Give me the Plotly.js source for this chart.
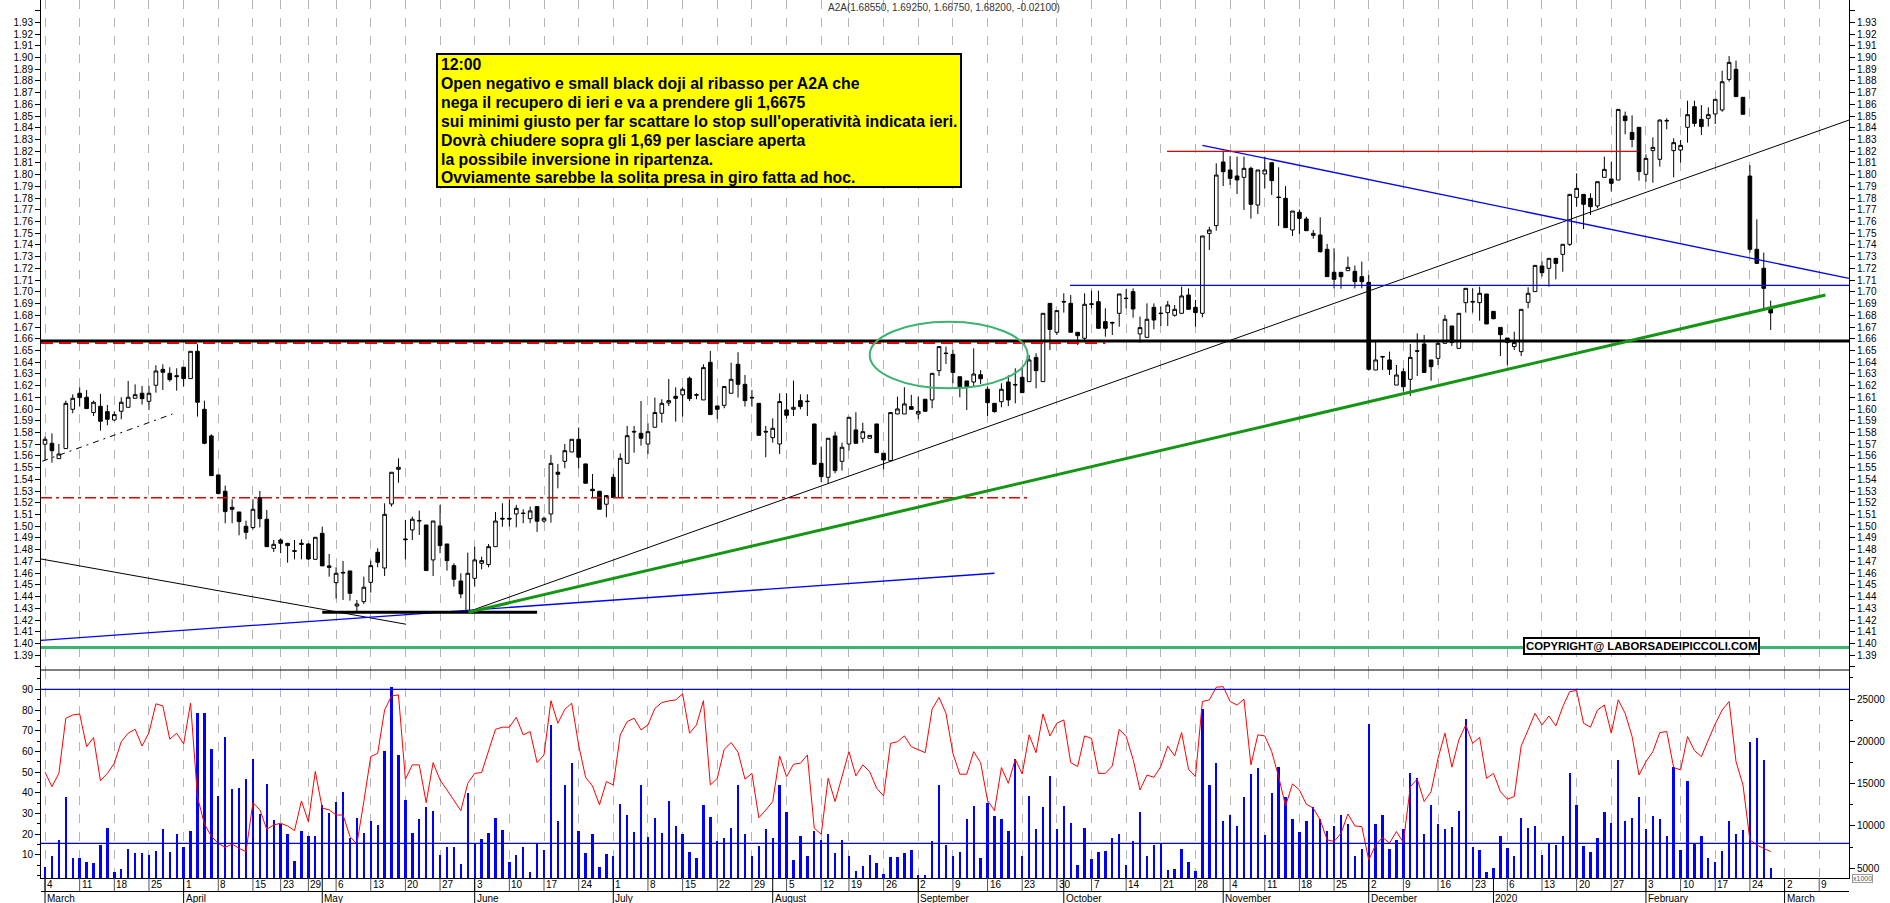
<!DOCTYPE html>
<html><head><meta charset="utf-8">
<script src="https://cdn.plot.ly/plotly-3.0.1.min.js"></script>
<style>html,body{margin:0;padding:0;background:#fff;}#chart{width:1890px;height:903px;}</style>
</head><body><div id="chart"></div>
<script>
// ---------- calendar (Borsa Italiana trading days) ----------
const calendarStart = '2019-03-04';
const calendarEnd = '2020-03-13';
const closedDays = ['2019-04-19','2019-04-22','2019-05-01','2019-08-15','2019-12-24','2019-12-25','2019-12-26','2019-12-31','2020-01-01'];
const weekTickDates = ['2019-03-04','2019-03-11','2019-03-18','2019-03-25','2019-04-01','2019-04-08','2019-04-15','2019-04-23','2019-04-29','2019-05-06','2019-05-13','2019-05-20','2019-05-27','2019-06-03','2019-06-10','2019-06-17','2019-06-24','2019-07-01','2019-07-08','2019-07-15','2019-07-22','2019-07-29','2019-08-05','2019-08-12','2019-08-19','2019-08-26','2019-09-02','2019-09-09','2019-09-16','2019-09-23','2019-09-30','2019-10-07','2019-10-14','2019-10-21','2019-10-28','2019-11-04','2019-11-11','2019-11-18','2019-11-25','2019-12-02','2019-12-09','2019-12-16','2019-12-23','2020-01-06','2020-01-13','2020-01-20','2020-01-27','2020-02-03','2020-02-10','2020-02-17','2020-02-24','2020-03-02','2020-03-09'];
const monthDates = ['2019-03-04','2019-04-01','2019-05-02','2019-06-03','2019-07-01','2019-08-01','2019-09-02','2019-10-01','2019-11-01','2019-12-02','2020-01-02','2020-02-03','2020-03-02'];
const monthNames = ['March','April','May','June','July','August','September','October','November','December','2020','February','March'];

// ---------- price data (A2A daily OHLC, 2019-03-04 .. 2020-02-27) ----------
const openP = [
1.5700,1.5708,1.5577,1.5663,1.5998,1.6135,1.6101,1.5970,1.6024,1.5978,
1.5907,1.5981,1.6015,1.6092,1.6135,1.6066,1.6203,1.6339,1.6305,1.6285,
1.6357,1.6260,1.6493,1.5998,1.5771,1.5438,1.5299,1.5162,1.5122,1.5000,
1.4989,1.5244,1.5060,1.4812,1.4883,1.4855,1.4792,1.4855,1.4849,1.4718,
1.4940,1.4662,1.4519,1.4607,1.4619,1.4320,1.4357,1.4522,1.4778,1.4644,
1.5190,1.5486,1.4892,1.4969,1.5050,1.5011,1.4713,1.5003,1.4849,1.4664,
1.4533,1.4280,1.4556,1.4684,1.4673,1.4826,1.5068,1.5068,1.5105,1.5113,
1.5065,1.5168,1.5045,1.5105,1.5461,1.5554,1.5634,1.5742,1.5532,1.5316,
1.5299,1.5188,1.5418,1.5245,1.5537,1.5810,1.5793,1.5702,1.5845,1.5964,
1.6052,1.6109,1.6121,1.6263,1.6123,1.6078,1.6399,1.6027,1.6032,1.6135,
1.6382,1.6211,1.6100,1.6049,1.5810,1.5756,1.5702,1.5993,1.5998,1.6072,
1.6068,1.5873,1.5537,1.5418,1.5771,1.5554,1.5702,1.5822,1.5751,1.5751,
1.5873,1.5623,1.5560,1.5958,1.5958,1.6021,1.5958,1.6084,1.6078,1.6328,
1.6478,1.6467,1.6276,1.6240,1.6231,1.6293,1.6169,1.6049,1.6063,1.6231,
1.6210,1.6271,1.6234,1.6441,1.6234,1.6902,1.6655,1.6918,1.6902,1.6655,
1.6604,1.6898,1.6916,1.6746,1.6739,1.6817,1.6947,1.7002,1.6641,1.6612,
1.6868,1.6819,1.6823,1.6800,1.6817,1.6973,1.6868,1.6817,1.7499,1.7565,
1.8108,1.8040,1.7989,1.7977,1.8054,1.7741,1.8006,1.8102,1.7809,1.7798,
1.7528,1.7679,1.7622,1.7482,1.7485,1.7363,1.7167,1.7167,1.7181,1.7175,
1.7130,1.7081,1.6333,1.6449,1.6419,1.6205,1.6319,1.6254,1.6498,1.6555,
1.6419,1.6433,1.6561,1.6709,1.6518,1.6908,1.6918,1.6908,1.6982,1.6834,
1.6697,1.6606,1.6533,1.6490,1.6911,1.7002,1.7221,1.7201,1.7286,1.7320,
1.7406,1.7806,1.7832,1.7798,1.7733,1.7977,1.7963,1.7954,1.8500,1.8361,
1.8404,1.8003,1.8205,1.8131,1.8463,1.8205,1.8210,1.8404,1.8580,1.8472,
1.8481,1.8518,1.8552,1.8813,1.8899,1.8660,1.7988,1.7363,1.7201,1.6855];
const highP = [
1.5765,1.5793,1.5702,1.6072,1.6126,1.6186,1.6163,1.6072,1.6129,1.6035,
1.5981,1.6101,1.6240,1.6211,1.6197,1.6197,1.6374,1.6382,1.6357,1.6348,
1.6357,1.6493,1.6553,1.6072,1.5785,1.5438,1.5347,1.5230,1.5122,1.5048,
1.5230,1.5301,1.5139,1.4883,1.4897,1.4855,1.4883,1.4889,1.4855,1.4906,
1.4997,1.4764,1.4650,1.4704,1.4619,1.4371,1.4570,1.4707,1.4812,1.5196,
1.5461,1.5580,1.5054,1.5082,1.5134,1.5011,1.5045,1.5182,1.4849,1.4684,
1.4599,1.4775,1.4826,1.4741,1.4849,1.5122,1.5196,1.5230,1.5182,1.5145,
1.5168,1.5168,1.5082,1.5609,1.5532,1.5702,1.5742,1.5842,1.5532,1.5446,
1.5299,1.5262,1.5446,1.5622,1.5856,1.5856,1.6069,1.5879,1.6098,1.6084,
1.6257,1.6186,1.6186,1.6277,1.6135,1.6382,1.6496,1.6027,1.6192,1.6396,
1.6485,1.6291,1.6163,1.6049,1.5856,1.5921,1.6135,1.6135,1.6243,1.6126,
1.6126,1.5873,1.5680,1.5751,1.5807,1.5714,1.5930,1.5973,1.5884,1.5776,
1.5873,1.5623,1.5970,1.6106,1.6186,1.6121,1.6106,1.6084,1.6305,1.6533,
1.6533,1.6504,1.6276,1.6240,1.6518,1.6333,1.6191,1.6049,1.6220,1.6288,
1.6348,1.6348,1.6461,1.6476,1.6817,1.6902,1.6840,1.6988,1.6973,1.6655,
1.6988,1.7010,1.7010,1.6860,1.6746,1.6982,1.7024,1.7030,1.6789,1.6902,
1.6902,1.6874,1.6922,1.6888,1.7044,1.7030,1.6931,1.7477,1.7556,1.8097,
1.8205,1.8159,1.8154,1.8154,1.8068,1.8040,1.8154,1.8102,1.8063,1.7903,
1.7690,1.7704,1.7642,1.7528,1.7636,1.7409,1.7372,1.7167,1.7300,1.7224,
1.7258,1.7144,1.6575,1.6449,1.6490,1.6376,1.6348,1.6555,1.6646,1.6632,
1.6419,1.6575,1.6803,1.6709,1.6817,1.7030,1.7030,1.7044,1.6982,1.6834,
1.6697,1.6606,1.6660,1.6851,1.7039,1.7226,1.7262,1.7286,1.7286,1.7406,
1.7832,1.8011,1.7832,1.7841,1.7940,1.8154,1.8111,1.8557,1.8538,1.8506,
1.8404,1.8173,1.8318,1.8472,1.8481,1.8310,1.8296,1.8631,1.8631,1.8594,
1.8574,1.8643,1.8887,1.9012,1.8973,1.8660,1.8082,1.7619,1.7335,1.6925];
const lowP = [
1.5560,1.5543,1.5577,1.5660,1.5964,1.6021,1.6004,1.5941,1.5816,1.5862,
1.5901,1.5913,1.6015,1.6092,1.6038,1.5993,1.6140,1.6163,1.6234,1.6157,
1.6192,1.6260,1.5936,1.5700,1.5432,1.5279,1.5026,1.5026,1.4923,1.4889,
1.4974,1.4991,1.4826,1.4781,1.4770,1.4690,1.4718,1.4718,1.4713,1.4718,
1.4662,1.4570,1.4383,1.4371,1.4366,1.4272,1.4337,1.4434,1.4650,1.4576,
1.5168,1.5372,1.4718,1.4883,1.4926,1.4622,1.4576,1.4770,1.4622,1.4485,
1.4386,1.4272,1.4485,1.4633,1.4650,1.4826,1.4997,1.4997,1.4991,1.5026,
1.5026,1.4952,1.5031,1.5031,1.5324,1.5495,1.5634,1.5495,1.5367,1.5239,
1.5145,1.5077,1.5239,1.5245,1.5537,1.5628,1.5688,1.5617,1.5845,1.5884,
1.6027,1.5893,1.5936,1.6069,1.6084,1.6078,1.5953,1.5916,1.6007,1.6135,
1.6098,1.6021,1.6021,1.5776,1.5589,1.5714,1.5617,1.5919,1.5941,1.5998,
1.5941,1.5529,1.5375,1.5361,1.5452,1.5475,1.5646,1.5708,1.5714,1.5751,
1.5628,1.5486,1.5560,1.5958,1.5958,1.5998,1.5913,1.5981,1.6007,1.6283,
1.6385,1.6220,1.6100,1.5992,1.6191,1.6214,1.5941,1.5970,1.6015,1.6026,
1.6049,1.6140,1.6234,1.6177,1.6234,1.6504,1.6632,1.6823,1.6655,1.6547,
1.6589,1.6860,1.6689,1.6618,1.6632,1.6703,1.6860,1.6780,1.6567,1.6612,
1.6680,1.6709,1.6709,1.6789,1.6817,1.6851,1.6703,1.6783,1.7357,1.7522,
1.7903,1.7912,1.7835,1.7699,1.7625,1.7664,1.7883,1.7827,1.7562,1.7548,
1.7477,1.7494,1.7522,1.7454,1.7335,1.7130,1.7030,1.7027,1.7181,1.7030,
1.7030,1.6328,1.6333,1.6333,1.6291,1.6205,1.6148,1.6112,1.6282,1.6313,
1.6242,1.6376,1.6561,1.6538,1.6518,1.6823,1.6823,1.6754,1.6726,1.6766,
1.6453,1.6376,1.6504,1.6453,1.6860,1.7002,1.7130,1.7044,1.7107,1.7172,
1.7391,1.7727,1.7536,1.7656,1.7713,1.7977,1.7855,1.7954,1.8344,1.8233,
1.7949,1.7940,1.7932,1.8068,1.8387,1.7977,1.8103,1.8273,1.8410,1.8338,
1.8410,1.8432,1.8537,1.8793,1.8666,1.8515,1.7335,1.7243,1.6860,1.6675];
const closeP = [
1.5742,1.5645,1.5617,1.6049,1.6092,1.6098,1.6004,1.6058,1.5896,1.5913,
1.5953,1.6058,1.6101,1.6123,1.6089,1.6135,1.6325,1.6314,1.6251,1.6277,
1.6260,1.6493,1.6058,1.5708,1.5432,1.5279,1.5125,1.5145,1.5040,1.4949,
1.5145,1.5065,1.4826,1.4846,1.4855,1.4835,1.4787,1.4846,1.4721,1.4906,
1.4662,1.4650,1.4599,1.4602,1.4428,1.4337,1.4480,1.4664,1.4693,1.5102,
1.5461,1.5503,1.4886,1.5060,1.5046,1.4622,1.5045,1.4835,1.4707,1.4548,
1.4423,1.4599,1.4713,1.4707,1.4826,1.5045,1.5062,1.5062,1.5153,1.5109,
1.5131,1.5043,1.5068,1.5537,1.5444,1.5645,1.5742,1.5589,1.5367,1.5304,
1.5145,1.5262,1.5245,1.5580,1.5773,1.5805,1.5751,1.5807,1.5970,1.6049,
1.6072,1.6092,1.6169,1.6089,1.6119,1.6354,1.5953,1.5998,1.6192,1.6254,
1.6211,1.6072,1.6096,1.5776,1.5805,1.5836,1.6064,1.5947,1.6015,1.6021,
1.6064,1.5529,1.5424,1.5751,1.5475,1.5674,1.5930,1.5708,1.5807,1.5776,
1.5628,1.5566,1.5970,1.6001,1.6044,1.5998,1.5981,1.5981,1.6305,1.6533,
1.6474,1.6313,1.6191,1.6191,1.6299,1.6259,1.6055,1.5978,1.6169,1.6078,
1.6206,1.6140,1.6419,1.6328,1.6817,1.6680,1.6840,1.6914,1.6655,1.6626,
1.6894,1.6894,1.6689,1.6689,1.6735,1.6982,1.6943,1.6854,1.6695,1.6766,
1.6760,1.6815,1.6888,1.6851,1.6965,1.6851,1.6823,1.7477,1.7528,1.7997,
1.8026,1.7969,1.7955,1.8054,1.7747,1.8040,1.8040,1.7949,1.7805,1.7548,
1.7690,1.7627,1.7522,1.7499,1.7343,1.7130,1.7107,1.7130,1.7209,1.7087,
1.7087,1.6339,1.6419,1.6445,1.6339,1.6291,1.6191,1.6441,1.6494,1.6313,
1.6362,1.6561,1.6766,1.6567,1.6817,1.7030,1.6914,1.6988,1.6726,1.6771,
1.6635,1.6567,1.6567,1.6851,1.6988,1.7226,1.7164,1.7286,1.7243,1.7406,
1.7832,1.7883,1.7747,1.7727,1.7940,1.8045,1.7926,1.8557,1.8461,1.8301,
1.8026,1.8139,1.8233,1.8466,1.8459,1.8273,1.8250,1.8512,1.8438,1.8410,
1.8512,1.8643,1.8793,1.8958,1.8666,1.8515,1.7363,1.7243,1.7030,1.6820];
// volume in thousands of shares
const volume = [
5100,6400,8400,13400,6200,6200,5800,5600,7800,9800,
4600,4900,7300,6800,6800,6600,7000,9600,6900,9100,
7500,9400,23300,23400,19100,13500,20500,14400,14500,15500,
17900,11400,15000,10700,10200,9000,5900,9400,8800,8800,
12500,11500,12800,14000,8600,10900,9200,10600,10100,18900,
26400,18400,13100,9200,10800,12200,11800,6600,7500,7500,
5500,13900,7900,8500,9200,11000,9500,5700,6600,7500,
4600,7900,7200,21900,10600,14800,17500,9400,6800,9100,
5200,6700,6400,12600,11300,9300,14900,8700,10900,9200,
12900,10000,9100,6900,6200,12500,11100,8200,8600,9800,
14900,9100,6400,7600,9600,8600,14900,11600,6000,8800,
6400,9400,8300,9000,6800,8300,6400,4700,5300,6600,
5600,4300,6300,6300,6800,7200,4200,4200,8200,14900,
7800,6400,6900,10800,12400,6200,12700,11200,10800,9400,
17900,6400,13500,9600,12300,15900,9600,12400,10400,5400,
9800,6100,6900,7000,8600,9100,5400,8200,11700,6400,
7700,8000,4800,4900,7300,5800,4700,23800,14900,17500,
10600,11300,10000,13400,16200,16800,8900,13900,17000,13400,
10800,9300,10600,12200,10800,9400,10000,11300,10200,6400,
7300,22000,10200,11300,7300,8400,9600,16300,15700,9100,
12500,10200,9600,9900,11800,22600,7500,7200,4600,5000,
8800,7400,6400,10900,9800,10000,6600,8000,7700,8800,
16300,12500,7600,6900,8600,11600,10400,17800,10600,10900,
13400,9600,11200,10800,8800,17000,7200,15300,8000,8800,
6200,5800,7000,10600,9000,9500,19900,20400,17800,5000];
// oscillator (0-100 scale)
const oscillator = [
50,43,49.4,76,77.6,78.1,62.3,66.7,45.9,49.4,
54.3,64.7,68.8,70.7,62.6,69.1,83,82,65.9,68.8,
63.6,83.3,38,25,19,15.6,13.7,15.3,13.2,11.6,
35.3,31.8,22.4,24.5,25.3,24,21.8,36.1,26.1,50.3,
32.6,31.8,29.3,29.3,18.9,15.3,35.8,57.5,59.1,80,
86.8,87.3,46.6,53.5,53.5,35.3,54.6,46.2,41.4,36.6,
31.4,44.6,49.4,49.8,59.9,70.7,71.7,71.7,76.5,68,
69.6,54.6,58.3,84.5,73.6,80.3,83.3,63.1,47.5,43.3,
34.2,45.4,43.8,68,74.4,76,70.4,72.8,80.8,83.6,
84.4,84.9,87.8,68.8,72.8,84.5,43.8,47,61,64.3,
59.6,46.6,49.4,28,31.7,35.8,57.8,47.8,53.8,54.3,
58.3,22.9,20,47,35.8,47.8,59.9,48.2,53.5,50.2,
42.2,38.5,63.9,64.7,67.5,62.3,60.7,59.4,80.4,86.1,
78.4,59.1,49,49,59.9,54.6,36.3,31.4,52.2,44.6,
56.2,49.1,68,59.4,78.1,67.5,73.6,75.2,54.6,52.7,
67.5,66.3,49.4,49.4,53,70.7,67.2,56.2,41.4,48.6,
47.5,52.7,62.6,57.8,69.1,51.4,47.8,84.1,84.9,91,
91.3,84.1,82.4,85.2,53.5,68,67.5,59.9,47.8,33.7,
44.3,41.4,34.5,32.6,26.9,17.3,16.5,20.5,29.8,24,
23.7,7.6,14.8,18.5,15.7,21.3,16,43,46.6,35.8,
40.6,56.7,68.8,52.4,65.5,72.8,63.9,66.8,47,49.4,
40.6,36.9,38.2,62.6,70.4,78.4,72.8,77.1,72.3,81.6,
88.9,89.4,73.6,71.7,80,82.4,68.8,84.9,78.4,67.2,
48.6,55.1,59.9,69.1,69.6,52.2,51.1,67.2,60.4,57.5,
65.5,73.3,80,84.1,55.1,43.8,17.3,14.8,13.2,11.6];

const titleText = 'A2A(1.68550, 1.69250, 1.66750, 1.68200, -0.02100)';
const noteLines = [
 '12:00',
 'Open negativo e small black doji al ribasso per A2A che',
 'nega il recupero di ieri e va a prendere gli 1,6675',
 "sui minimi giusto per far scattare lo stop sull'operatività indicata ieri.",
 'Dovrà chiudere sopra gli 1,69 per lasciare aperta',
 'la possibile inversione in ripartenza.',
 'Ovviamente sarebbe la solita presa in giro fatta ad hoc.'];
const copyrightText = 'COPYRIGHT@ LABORSADEIPICCOLI.COM';
const volumeTicks = [5000, 10000, 15000, 20000, 25000];
const oscTicks = [10, 20, 30, 40, 50, 60, 70, 80, 90];

// ---------- build ----------
function buildCalendar(start, end, closed) {
  const out = [];
  const d = new Date(start + 'T00:00:00Z');
  const e = new Date(end + 'T00:00:00Z');
  while (d <= e) {
    const wd = d.getUTCDay();
    const s = d.toISOString().slice(0, 10);
    if (wd !== 0 && wd !== 6 && closed.indexOf(s) < 0) out.push(s);
    d.setUTCDate(d.getUTCDate() + 1);
  }
  return out;
}
const tradingDays = buildCalendar(calendarStart, calendarEnd, closedDays);
const pos = s => tradingDays.indexOf(s);
const xIdx = tradingDays.slice(0, openP.length).map(pos);
const weekIdx = weekTickDates.map(pos);

const FONT = 'Liberation Sans, Arial, sans-serif';
const H = 878; // plot area height in px
const W = 1808; // plot area width in px
const py = px => (H - px) / H;
const pxx = px => (px - 41) / W;
const XR = [-0.58, 260.3];

// analyst drawings (index, price)
const drawings = [
  {x0:XR[0], y0:1.3966, x1:XR[1], y1:1.3966, c:'rgb(60,179,113)', w:3},
  {x0:XR[0], y0:1.6580, x1:XR[1], y1:1.6580, c:'black', w:3},
  {x0:XR[0], y0:1.6563, x1:153, y1:1.6563, c:'rgb(230,0,0)', w:2, d:'12px,6px'},
  {x0:XR[0], y0:1.5244, x1:141.8, y1:1.5244, c:'rgb(230,0,0)', w:1.5, d:'11px,4px,3px,4px'},
  {x0:-0.4, y0:1.5555, x1:18.4, y1:1.5958, c:'black', w:1, d:'6px,5px,2px,5px'},
  {x0:XR[0], y0:1.4721, x1:52.1, y1:1.4164, c:'black', w:1},
  {x0:XR[0], y0:1.4027, x1:137.0, y1:1.4599, c:'blue', w:1.3},
  {x0:40.0, y0:1.4266, x1:71.0, y1:1.4266, c:'black', w:3},
  {x0:61.1, y0:1.4272, x1:XR[1], y1:1.8466, c:'black', w:1},
  {x0:61.1, y0:1.4266, x1:256.9, y1:1.6973, c:'rgb(20,150,20)', w:3},
  {x0:167.0, y0:1.8250, x1:XR[1], y1:1.7115, c:'blue', w:1.3},
  {x0:161.9, y0:1.8199, x1:229.8, y1:1.8199, c:'rgb(230,0,0)', w:1.3},
  {x0:147.9, y0:1.7056, x1:XR[1], y1:1.7056, c:'blue', w:1.3}
];
const shapes = drawings.map(s => ({type:'line', xref:'x', yref:'y', x0:s.x0, y0:s.y0, x1:s.x1, y1:s.y1,
  line:{color:s.c, width:s.w, dash:s.d || 'solid'}}));
shapes.push({type:'circle', xref:'x', yref:'y', x0:119.0, x1:141.8, y0:1.6177, y1:1.6745,
  line:{color:'rgb(60,179,113)', width:2}});
// lower panel reference lines
[90, 15.6].forEach(v => shapes.push({type:'line', xref:'paper', yref:'y4', x0:0, x1:1, y0:v, y1:v,
  line:{color:'blue', width:1.3}}));
// panel separator
shapes.push({type:'line', xref:'paper', yref:'paper', x0:0, x1:1, y0:py(670), y1:py(670), line:{color:'black', width:1}});
// note box
shapes.push({type:'rect', xref:'paper', yref:'paper', x0:pxx(437), x1:pxx(961), y0:py(187), y1:py(54),
  fillcolor:'#ffff00', line:{color:'black', width:2}});
// date rows
shapes.push({type:'line', xref:'paper', yref:'paper', x0:0, x1:1, y0:py(891.5), y1:py(891.5), line:{color:'black', width:1}});
weekIdx.forEach(i => shapes.push({type:'line', xref:'x', yref:'paper', x0:i, x1:i, y0:0, y1:py(891.5), line:{color:'#555', width:1}}));
monthDates.forEach(d => { const i = Math.max(pos(d), XR[0] + 0.1);
  shapes.push({type:'line', xref:'x', yref:'paper', x0:i, x1:i, y0:0, y1:py(903), line:{color:'black', width:1}}); });

const annotations = [];
weekTickDates.forEach((d, k) => annotations.push({x:weekIdx[k], xref:'x', y:py(884.5), yref:'paper',
  text:String(parseInt(d.slice(8), 10)), xanchor:'left', yanchor:'middle', xshift:0, showarrow:false,
  font:{family:FONT, size:10, color:'black'}}));
monthDates.forEach((d, k) => annotations.push({x:Math.max(pos(d), XR[0] + 0.1), xref:'x', y:py(898), yref:'paper',
  text:monthNames[k], xanchor:'left', yanchor:'middle', xshift:0, showarrow:false,
  font:{family:FONT, size:10, color:'black'}}));
annotations.push({x:0.4997, xref:'paper', y:py(8), yref:'paper', text:titleText, showarrow:false,
  xanchor:'center', yanchor:'middle', font:{family:FONT, size:10, color:'#333'}});
noteLines.forEach((t, k) => annotations.push({x:pxx(439), xref:'paper', y:py(64.5 + k * 18.9), yref:'paper',
  xanchor:'left', yanchor:'middle', text:'<b>' + t + '</b>', showarrow:false,
  font:{family:FONT, size:15.8, color:'black'}}));
annotations.push({x:pxx(1641), xref:'paper', y:py(646.3), yref:'paper', xanchor:'center', yanchor:'middle',
  text:'<b>' + copyrightText + '</b>', showarrow:false, bgcolor:'white', bordercolor:'black', borderwidth:2, borderpad:1,
  font:{family:FONT, size:11.3, color:'black'}});
annotations.push({x:pxx(1862), xref:'paper', y:py(878), yref:'paper', xanchor:'center', yanchor:'middle',
  text:'x1000', showarrow:false, bgcolor:'white', bordercolor:'#999', borderwidth:1, borderpad:0,
  font:{family:FONT, size:7, color:'#555'}});

const priceTicks = [], priceText = [];
for (let k = 138; k <= 194; k++) { priceTicks.push(k / 100); priceText.push(k === 138 || k === 194 ? '' : (k / 100).toFixed(2)); }
const PR = [1.37737, 1.94903];
const tickFont = {family:FONT, size:10, color:'black'};
const splitY = py(670);

const traces = [
  {type:'candlestick', x:xIdx, open:openP, high:highP, low:lowP, close:closeP, xaxis:'x', yaxis:'y',
   increasing:{line:{color:'black', width:1}, fillcolor:'white'},
   decreasing:{line:{color:'black', width:1}, fillcolor:'black'},
   whiskerwidth:0, hoverinfo:'skip', showlegend:false},
  {type:'bar', x:xIdx, y:volume, xaxis:'x', yaxis:'y2', width:0.34, marker:{color:'#0000ff', line:{width:0}},
   hoverinfo:'skip', showlegend:false},
  {type:'scatter', mode:'lines', x:xIdx, y:oscillator, xaxis:'x', yaxis:'y4', line:{color:'#ff0000', width:1},
   hoverinfo:'skip', showlegend:false},
  {type:'scatter', x:[XR[0]], y:[PR[0] - 1], xaxis:'x', yaxis:'y3', mode:'markers', hoverinfo:'skip', showlegend:false}
];

const layout = {
  width:1890, height:903, margin:{l:41, r:41, t:0, b:25, pad:0},
  paper_bgcolor:'white', plot_bgcolor:'white', showlegend:false, hovermode:false,
  boxgap:0.25, bargap:0,
  font:{family:FONT, size:10, color:'black'},
  xaxis:{range:XR, anchor:'y2', tickvals:weekIdx, showticklabels:false, ticks:'',
    showgrid:true, gridcolor:'#b4b4b4', griddash:'dash', gridwidth:1, zeroline:false,
    showline:true, linecolor:'black', linewidth:1, rangeslider:{visible:false}, fixedrange:true},
  yaxis:{domain:[splitY, 1], range:PR, anchor:'x', side:'left', tickvals:priceTicks, ticktext:priceText,
    ticks:'outside', ticklen:5, tickcolor:'black', tickfont:tickFont, showgrid:false, zeroline:false,
    showline:true, linecolor:'black', linewidth:1, fixedrange:true},
  yaxis3:{overlaying:'y', range:PR, anchor:'x', side:'right', tickvals:priceTicks, ticktext:priceText,
    ticks:'outside', ticklen:5, tickcolor:'black', tickfont:tickFont, showgrid:false, zeroline:false,
    showline:true, linecolor:'black', linewidth:1, fixedrange:true},
  yaxis2:{domain:[0, splitY], range:[3850, 28440], anchor:'x', side:'right',
    tickvals:volumeTicks, ticktext:volumeTicks.map(String), ticks:'outside', ticklen:5, tickcolor:'black', tickfont:tickFont,
    minor:{dtick:2500, ticklen:3, tickcolor:'black', ticks:'outside'},
    showgrid:false, zeroline:false, showline:true, linecolor:'black', linewidth:1, fixedrange:true},
  yaxis4:{overlaying:'y2', range:[-1.12, 99.32], anchor:'x', side:'left',
    tickvals:oscTicks, ticktext:oscTicks.map(String), ticks:'outside', ticklen:5, tickcolor:'black', tickfont:tickFont,
    minor:{dtick:5, ticklen:3, tickcolor:'black', ticks:'outside'},
    showgrid:false, zeroline:false, showline:true, linecolor:'black', linewidth:1, fixedrange:true},
  shapes:shapes, annotations:annotations
};

Plotly.newPlot('chart', traces, layout, {staticPlot:true, displayModeBar:false});
</script></body></html>
